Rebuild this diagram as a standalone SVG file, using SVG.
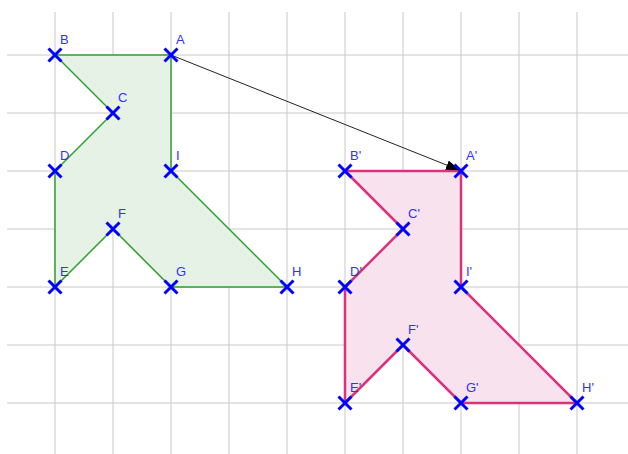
<svg xmlns="http://www.w3.org/2000/svg" width="628" height="454" viewBox="0 0 628 454">
<style>
.grid line{stroke:#c8c8c8;stroke-width:1}
.x{stroke:#0000ff;stroke-width:3;fill:none}
.lbl{font-family:"Liberation Sans",Arial,sans-serif;font-size:13px;fill:#3030ff}
.orig{fill:#e5f2e5;stroke:#2fa02f;stroke-width:1.5;stroke-linejoin:round}
.img{fill:#f7e2ed;stroke:#d9337d;stroke-width:2.5;stroke-linejoin:round}
</style>
<defs>
<marker id="ah" markerWidth="14" markerHeight="10" refX="13" refY="5" orient="auto" markerUnits="userSpaceOnUse">
<path d="M0,0 L14,5 L0,10 z" fill="#000"/>
</marker>
<path id="cr" d="M-6.5,-6.5 L6.5,6.5 M-6.5,6.5 L6.5,-6.5"/>
</defs>
<rect width="628" height="454" fill="#fff"/>
<g class="grid">
<line x1="7" y1="55" x2="628" y2="55"/>
<line x1="7" y1="113" x2="628" y2="113"/>
<line x1="7" y1="171" x2="628" y2="171"/>
<line x1="7" y1="229" x2="628" y2="229"/>
<line x1="7" y1="287" x2="628" y2="287"/>
<line x1="7" y1="345" x2="628" y2="345"/>
<line x1="7" y1="403" x2="628" y2="403"/>
<line x1="55" y1="12" x2="55" y2="454"/>
<line x1="113" y1="12" x2="113" y2="454"/>
<line x1="171" y1="12" x2="171" y2="454"/>
<line x1="229" y1="12" x2="229" y2="454"/>
<line x1="287" y1="12" x2="287" y2="454"/>
<line x1="345" y1="12" x2="345" y2="454"/>
<line x1="403" y1="12" x2="403" y2="454"/>
<line x1="461" y1="12" x2="461" y2="454"/>
<line x1="519" y1="12" x2="519" y2="454"/>
<line x1="577" y1="12" x2="577" y2="454"/>
</g>
<g id="original">
<polygon class="orig" points="55,55 171,55 171,171 287,287 171,287 113,229 55,287 55,171 113,113"/>
</g>
<g id="image">
<polygon class="img" points="345,171 461,171 461,287 577,403 461,403 403,345 345,403 345,287 403,229"/>
</g>
<g id="connectors">
<line x1="171" y1="55" x2="459" y2="170" stroke="#222" stroke-width="1" marker-end="url(#ah)"/>
</g>
<g id="pA"><use href="#cr" class="x" x="171" y="55"/><text class="lbl" x="176" y="44">A</text></g>
<g id="pB"><use href="#cr" class="x" x="55" y="55"/><text class="lbl" x="60" y="44">B</text></g>
<g id="pC"><use href="#cr" class="x" x="113" y="113"/><text class="lbl" x="118" y="102">C</text></g>
<g id="pD"><use href="#cr" class="x" x="55" y="171"/><text class="lbl" x="60" y="160">D</text></g>
<g id="pI"><use href="#cr" class="x" x="171" y="171"/><text class="lbl" x="176" y="160">I</text></g>
<g id="pF"><use href="#cr" class="x" x="113" y="229"/><text class="lbl" x="118" y="218">F</text></g>
<g id="pE"><use href="#cr" class="x" x="55" y="287"/><text class="lbl" x="60" y="276">E</text></g>
<g id="pG"><use href="#cr" class="x" x="171" y="287"/><text class="lbl" x="176" y="276">G</text></g>
<g id="pH"><use href="#cr" class="x" x="287" y="287"/><text class="lbl" x="292" y="276">H</text></g>
<g id="pA2"><use href="#cr" class="x" x="461" y="171"/><text class="lbl" x="466" y="160">A'</text></g>
<g id="pB2"><use href="#cr" class="x" x="345" y="171"/><text class="lbl" x="350" y="160">B'</text></g>
<g id="pC2"><use href="#cr" class="x" x="403" y="229"/><text class="lbl" x="408" y="218">C'</text></g>
<g id="pD2"><use href="#cr" class="x" x="345" y="287"/><text class="lbl" x="350" y="276">D'</text></g>
<g id="pI2"><use href="#cr" class="x" x="461" y="287"/><text class="lbl" x="466" y="276">I'</text></g>
<g id="pF2"><use href="#cr" class="x" x="403" y="345"/><text class="lbl" x="408" y="334">F'</text></g>
<g id="pE2"><use href="#cr" class="x" x="345" y="403"/><text class="lbl" x="350" y="392">E'</text></g>
<g id="pG2"><use href="#cr" class="x" x="461" y="403"/><text class="lbl" x="466" y="392">G'</text></g>
<g id="pH2"><use href="#cr" class="x" x="577" y="403"/><text class="lbl" x="582" y="392">H'</text></g>
</svg>
